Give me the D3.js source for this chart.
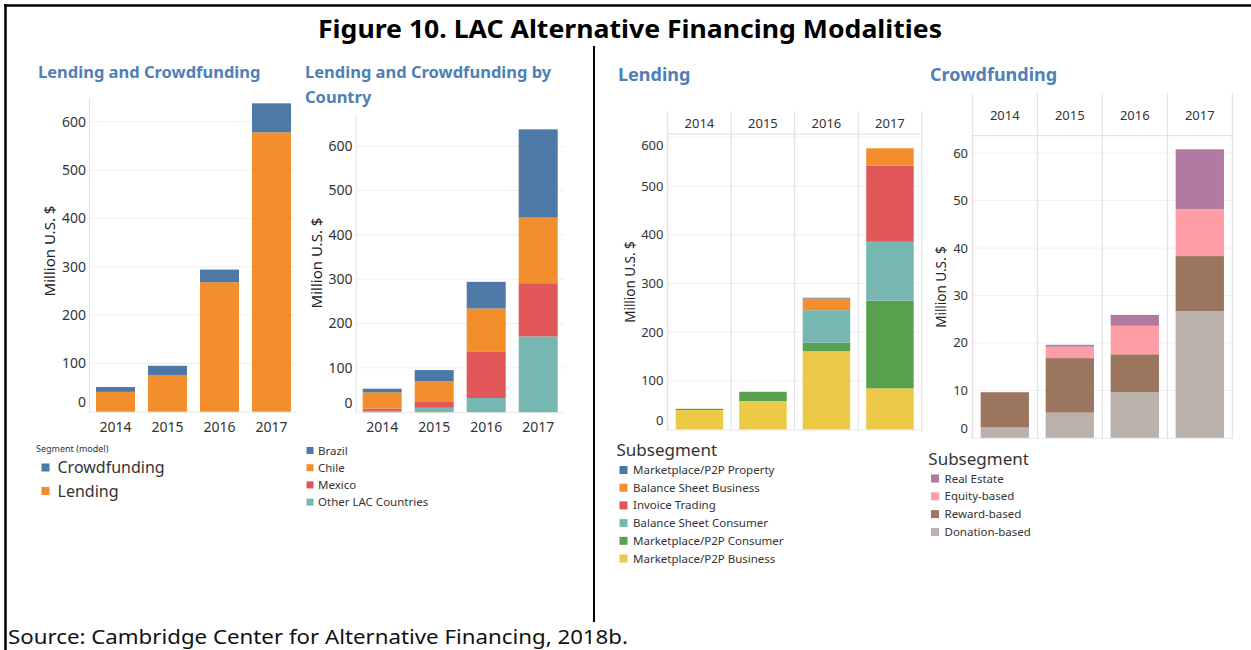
<!DOCTYPE html>
<html>
<head>
<meta charset="utf-8">
<script src="https://cdn.jsdelivr.net/npm/d3@7"></script>
<style>
  body { margin: 0; background: #fff; }
  text { font-family: "Noto Sans", "Open Sans", sans-serif; }
</style>
</head>
<body>
<svg id="chart" width="1251" height="650"></svg>
<script>
// ---- data (million U.S. $) ----
var years = ["2014", "2015", "2016", "2017"];

// panel 1: by segment
var segLending = [41, 76, 268, 578];
var segCrowdfunding = [10, 19, 26, 60];

// panel 2: by country
var brazil = [8, 25, 60, 199];
var chile = [37, 47, 98, 148];
var mexico = [5, 13, 104, 120];
var otherLac = [3, 10, 32, 171];

// panel 3: lending subsegments
var p2pBusiness = [40, 58.5, 161, 84.5];
var p2pConsumer = [2.5, 19, 17, 180];
var bsConsumer = [0, 0, 67, 121];
var invoiceTrading = [0, 0, 0, 156];
var bsBusiness = [0, 0, 24, 36];
var p2pProperty = [0, 0, 1.5, 0];

// panel 4: crowdfunding subsegments
var donationBased = [2.2, 5.3, 9.6, 26.7];
var rewardBased = [7.4, 11.5, 8.0, 11.6];
var equityBased = [0, 2.4, 6.0, 9.9];
var realEstate = [0, 0.4, 2.3, 12.6];

var titleBlue = "#4f80b5",
    ink = "#333";

var svg = d3.select("#chart");

// page frame
svg.append("line").attr("x1", 4).attr("x2", 1251).attr("y1", 5.5).attr("y2", 5.5)
    .attr("stroke", "#000").attr("stroke-width", 2.5);
svg.append("line").attr("x1", 5.5).attr("x2", 5.5).attr("y1", 4).attr("y2", 650)
    .attr("stroke", "#000").attr("stroke-width", 2.5);
svg.append("line").attr("x1", 594).attr("x2", 594).attr("y1", 46).attr("y2", 622)
    .attr("stroke", "#000").attr("stroke-width", 2);

svg.append("text")
    .attr("x", 318).attr("y", 38)
    .attr("textLength", 624).attr("lengthAdjust", "spacingAndGlyphs")
    .style("font-size", "25px").style("font-weight", "bold").style("fill", "#000")
    .text("Figure 10. LAC Alternative Financing Modalities");

svg.append("text")
    .attr("x", 8).attr("y", 644)
    .attr("textLength", 620).attr("lengthAdjust", "spacingAndGlyphs")
    .style("font-size", "20px").style("fill", "#111")
    .text("Source: Cambridge Center for Alternative Financing, 2018b.");

// Draw one stacked bar panel
function drawPanel(p) {
    var g = svg.append("g");
    var keys = p.series.map(function(s) { return s.name; });

    var rows = years.map(function(yr, i) {
        var r = { year: yr };
        p.series.forEach(function(s) { r[s.name] = s.values[i]; });
        return r;
    });
    var stacked = d3.stack().keys(keys)(rows);

    var x = d3.scaleBand()
        .domain(years)
        .range([p.left, p.right])
        .paddingInner(p.pad)
        .paddingOuter(p.pad / 2);
    var y = d3.scaleLinear()
        .domain([0, p.refValue])
        .range([p.base, p.refY]);

    var tickVals = d3.range(0, p.maxTick + p.step / 2, p.step);

    // faint gridlines
    g.selectAll(".grid")
        .data(tickVals.slice(1))
        .enter()
        .append("line")
        .attr("x1", p.left).attr("x2", p.right)
        .attr("y1", function(d) { return y(d); })
        .attr("y2", function(d) { return y(d); })
        .attr("stroke", "#f0f0f0");

    // axis frame
    g.append("line")
        .attr("x1", p.left).attr("x2", p.left)
        .attr("y1", p.top).attr("y2", p.base + 1)
        .attr("stroke", "#e3e3e3");
    g.append("line")
        .attr("x1", p.left).attr("x2", p.right)
        .attr("y1", p.base + 0.5).attr("y2", p.base + 0.5)
        .attr("stroke", "#e8e8e8");

    if (p.header) {
        // Tableau style column header with year labels
        var half = x.step() * x.paddingInner() / 2;
        var edges = years.map(function(d) { return x(d) - half; }).concat([p.right]);
        g.selectAll(".col")
            .data(edges)
            .enter()
            .append("line")
            .attr("x1", function(d) { return d; })
            .attr("x2", function(d) { return d; })
            .attr("y1", p.headTop).attr("y2", p.base + 1)
            .attr("stroke", "#dedede");
        g.append("line")
            .attr("x1", p.left).attr("x2", p.right)
            .attr("y1", p.top).attr("y2", p.top)
            .attr("stroke", "#dedede");
        g.selectAll(".yr")
            .data(years)
            .enter()
            .append("text")
            .attr("x", function(d) { return x(d) + x.bandwidth() / 2; })
            .attr("y", (p.headTop + p.top) / 2 + 1)
            .attr("dy", "0.35em")
            .attr("text-anchor", "middle")
            .style("font-size", p.yearSize + "px")
            .style("fill", ink)
            .text(function(d) { return d; });
    } else {
        g.selectAll(".yr")
            .data(years)
            .enter()
            .append("text")
            .attr("x", function(d) { return x(d) + x.bandwidth() / 2; })
            .attr("y", p.yearY)
            .attr("dy", "0.35em")
            .attr("text-anchor", "middle")
            .style("font-size", p.yearSize + "px")
            .style("fill", ink)
            .text(function(d) { return d; });
    }

    // y tick labels, edge labels nudged inside like Tableau does
    g.selectAll(".tick")
        .data(tickVals)
        .enter()
        .append("text")
        .attr("x", p.tickX)
        .attr("y", function(d) {
            var v = y(d);
            if (v > p.base - 9.5) v = p.base - 9.5;
            if (v < p.top + 11) v = p.top + 11;
            return v;
        })
        .attr("dy", "0.35em")
        .attr("text-anchor", "end")
        .style("font-size", p.tickSize + "px")
        .style("fill", ink)
        .text(function(d) { return d; });

    g.append("text")
        .attr("transform", "translate(" + p.axisX + "," + p.axisY + ") rotate(-90)")
        .attr("dy", "0.35em")
        .attr("text-anchor", "middle")
        .style("font-size", p.axisSize + "px")
        .style("fill", "#222")
        .text("Million U.S. $");

    // bars
    g.selectAll(".layer")
        .data(stacked)
        .enter()
        .append("g")
        .attr("fill", function(d, i) { return p.series[i].color; })
        .selectAll("rect")
        .data(function(d) { return d; })
        .enter()
        .append("rect")
        .attr("x", function(d) { return x(d.data.year); })
        .attr("width", x.bandwidth())
        .attr("y", function(d) { return y(d[1]); })
        .attr("height", function(d) { return Math.max(0, y(d[0]) - y(d[1])); });

    // panel title
    p.title.forEach(function(line, i) {
        g.append("text")
            .attr("x", p.titleX)
            .attr("y", p.titleY + i * 25)
            .attr("dy", "0.35em")
            .style("font-size", p.titleSize + "px")
            .style("font-weight", "bold")
            .style("fill", titleBlue)
            .text(line);
    });

    // legend, top series first
    var lg = g.append("g");
    if (p.legendTitle) {
        lg.append("text")
            .attr("x", p.legendTitle.x).attr("y", p.legendTitle.y)
            .attr("dy", "0.35em")
            .style("font-size", p.legendTitle.size + "px")
            .style("fill", ink)
            .text(p.legendTitle.text);
    }
    var items = p.series.slice().reverse();
    var entry = lg.selectAll(".item")
        .data(items)
        .enter()
        .append("g")
        .attr("transform", function(d, i) {
            return "translate(" + p.legendX + "," + (p.legendY + i * p.legendGap) + ")";
        });
    entry.append("rect")
        .attr("x", 0).attr("y", -p.keySize / 2)
        .attr("width", p.keySize).attr("height", p.keySize)
        .attr("fill", function(d) { return d.color; });
    entry.append("text")
        .attr("x", p.keySize + p.keyGap)
        .attr("dy", "0.35em")
        .style("font-size", p.legendSize + "px")
        .style("fill", ink)
        .text(function(d) { return d.name; });
}

drawPanel({
    series: [
        { name: "Lending", values: segLending, color: "#f28e2b" },
        { name: "Crowdfunding", values: segCrowdfunding, color: "#4e79a7" }
    ],
    left: 89.5, right: 297.5, pad: 0.25,
    base: 411.7, refValue: 600, refY: 121.7, maxTick: 600, step: 100, top: 98,
    tickX: 86, tickSize: 14, yearY: 427, yearSize: 14,
    axisX: 50, axisY: 251, axisSize: 15,
    title: ["Lending and Crowdfunding"], titleX: 38, titleY: 72, titleSize: 16.5,
    legendTitle: { text: "Segment (model)", x: 36, y: 449, size: 9 },
    legendX: 41.5, legendY: 467.5, legendGap: 23.5, keySize: 8, keyGap: 8, legendSize: 16
});

drawPanel({
    series: [
        { name: "Other LAC Countries", values: otherLac, color: "#76b7b2" },
        { name: "Mexico", values: mexico, color: "#e15759" },
        { name: "Chile", values: chile, color: "#f28e2b" },
        { name: "Brazil", values: brazil, color: "#4e79a7" }
    ],
    left: 356.2, right: 564.2, pad: 0.25,
    base: 412.2, refValue: 600, refY: 146.2, maxTick: 600, step: 100, top: 116,
    tickX: 352.5, tickSize: 14, yearY: 427, yearSize: 14,
    axisX: 317, axisY: 263, axisSize: 15,
    title: ["Lending and Crowdfunding by", "Country"], titleX: 305, titleY: 72, titleSize: 16.5,
    legendX: 306.5, legendY: 450.5, legendGap: 17.2, keySize: 7, keyGap: 4.5, legendSize: 11.5
});

drawPanel({
    series: [
        { name: "Marketplace/P2P Business", values: p2pBusiness, color: "#edc948" },
        { name: "Marketplace/P2P Consumer", values: p2pConsumer, color: "#59a14f" },
        { name: "Balance Sheet Consumer", values: bsConsumer, color: "#76b7b2" },
        { name: "Invoice Trading", values: invoiceTrading, color: "#e15759" },
        { name: "Balance Sheet Business", values: bsBusiness, color: "#f28e2b" },
        { name: "Marketplace/P2P Property", values: p2pProperty, color: "#4e79a7" }
    ],
    header: true, headTop: 111.5,
    left: 667.7, right: 921.7, pad: 0.252,
    base: 429.5, refValue: 500, refY: 186, maxTick: 600, step: 100, top: 134,
    tickX: 663.5, tickSize: 13, yearSize: 13,
    axisX: 630, axisY: 282, axisSize: 13.5,
    title: ["Lending"], titleX: 618, titleY: 75, titleSize: 18,
    legendTitle: { text: "Subsegment", x: 616.5, y: 450, size: 17 },
    legendX: 619.5, legendY: 470, legendGap: 17.7, keySize: 8, keyGap: 5.5, legendSize: 11.5
});

drawPanel({
    series: [
        { name: "Donation-based", values: donationBased, color: "#bab0ac" },
        { name: "Reward-based", values: rewardBased, color: "#9c755f" },
        { name: "Equity-based", values: equityBased, color: "#ff9da7" },
        { name: "Real Estate", values: realEstate, color: "#b07aa1" }
    ],
    header: true, headTop: 93,
    left: 972.3, right: 1232.3, pad: 0.257,
    base: 437.8, refValue: 60, refY: 153.1, maxTick: 60, step: 10, top: 135.7,
    tickX: 968, tickSize: 13, yearSize: 13,
    axisX: 941.7, axisY: 287, axisSize: 13.5,
    title: ["Crowdfunding"], titleX: 930, titleY: 75, titleSize: 18,
    legendTitle: { text: "Subsegment", x: 928.3, y: 459, size: 17 },
    legendX: 931, legendY: 478.5, legendGap: 17.8, keySize: 8, keyGap: 5.5, legendSize: 11.5
});
</script>
</body>
</html>
